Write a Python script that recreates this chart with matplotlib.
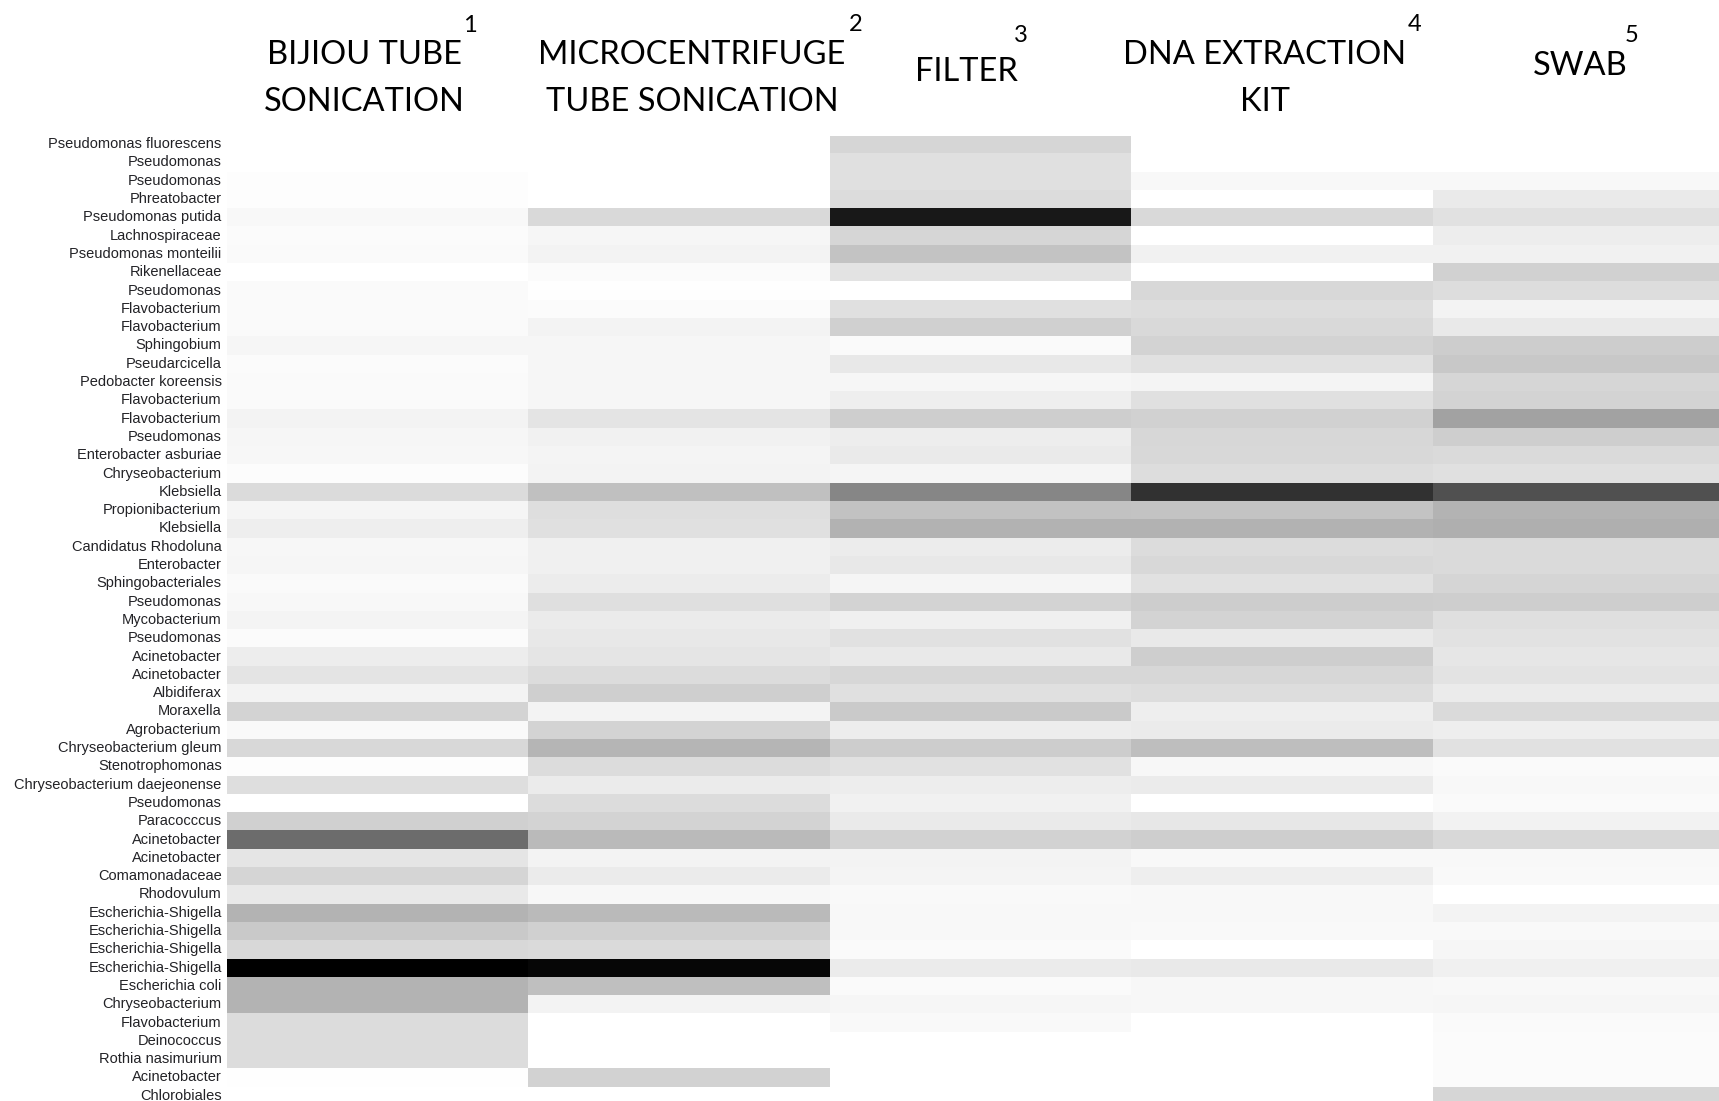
import numpy as np
import matplotlib
matplotlib.use('Agg')
import matplotlib.pyplot as plt
from matplotlib.transforms import ScaledTranslation

W, H = 1719, 1101  # размер картинки в пикселях

taxa = [
    'Pseudomonas fluorescens', 'Pseudomonas', 'Pseudomonas', 'Phreatobacter',
    'Pseudomonas putida', 'Lachnospiraceae', 'Pseudomonas monteilii', 'Rikenellaceae',
    'Pseudomonas', 'Flavobacterium', 'Flavobacterium', 'Sphingobium',
    'Pseudarcicella', 'Pedobacter koreensis', 'Flavobacterium', 'Flavobacterium',
    'Pseudomonas', 'Enterobacter asburiae', 'Chryseobacterium', 'Klebsiella',
    'Propionibacterium', 'Klebsiella', 'Candidatus Rhodoluna', 'Enterobacter',
    'Sphingobacteriales', 'Pseudomonas', 'Mycobacterium', 'Pseudomonas',
    'Acinetobacter', 'Acinetobacter', 'Albidiferax', 'Moraxella',
    'Agrobacterium', 'Chryseobacterium gleum', 'Stenotrophomonas', 'Chryseobacterium daejeonense',
    'Pseudomonas', 'Paracocccus', 'Acinetobacter', 'Acinetobacter',
    'Comamonadaceae', 'Rhodovulum', 'Escherichia-Shigella', 'Escherichia-Shigella',
    'Escherichia-Shigella', 'Escherichia-Shigella', 'Escherichia coli', 'Chryseobacterium',
    'Flavobacterium', 'Deinococcus', 'Rothia nasimurium', 'Acinetobacter',
    'Chlorobiales',
]

# интенсивность (0 - белый, 255 - чёрный) для каждого метода
bijou = [0, 0, 2, 2, 7, 4, 5, 0, 5, 5, 5, 9, 4, 5, 5, 12, 9, 8, 3, 36,
         10, 17, 8, 9, 5, 7, 11, 4, 18, 27, 12, 43, 6, 39, 2, 33, 0, 47, 147, 26,
         42, 22, 76, 54, 39, 255, 76, 76, 35, 35, 35, 1, 0]
microcentrifuge = [0, 0, 0, 0, 38, 9, 12, 4, 1, 4, 12, 9, 9, 9, 9, 27, 14, 11, 12, 63,
                   33, 31, 15, 15, 19, 32, 20, 23, 26, 35, 48, 12, 43, 74, 35, 20, 35, 44, 69, 12,
                   20, 8, 69, 47, 37, 249, 64, 12, 0, 0, 0, 45, 0]
filter_ = [41, 31, 31, 35, 231, 41, 59, 28, 0, 31, 47, 5, 23, 9, 17, 49, 18, 21, 10, 121,
           61, 77, 19, 23, 10, 43, 15, 30, 22, 40, 31, 53, 18, 50, 30, 18, 14, 21, 45, 12,
           11, 6, 7, 7, 5, 20, 5, 9, 6, 0, 0, 0, 0]
dna_kit = [0, 0, 7, 0, 38, 0, 14, 0, 39, 34, 38, 44, 30, 11, 31, 46, 40, 39, 34, 205,
           59, 77, 35, 39, 30, 50, 44, 22, 49, 40, 34, 17, 20, 65, 8, 20, 0, 24, 49, 7,
           17, 7, 7, 6, 0, 22, 8, 8, 0, 0, 0, 0, 0]
swab = [0, 0, 7, 21, 30, 18, 14, 46, 34, 12, 22, 50, 55, 41, 44, 93, 49, 37, 31, 175,
        75, 80, 37, 37, 42, 49, 32, 29, 25, 28, 20, 37, 17, 30, 5, 7, 5, 13, 39, 7,
        6, 0, 12, 6, 9, 15, 7, 9, 5, 4, 4, 4, 41]

methods = [('BIJIOU TUBE', 'SONICATION'), ('MICROCENTRIFUGE', 'TUBE SONICATION'),
           ('FILTER',), ('DNA EXTRACTION', 'KIT'), ('SWAB',)]

data = np.column_stack([bijou, microcentrifuge, filter_, dna_kit, swab])

fig = plt.figure(figsize=(W / 100, H / 100), dpi=100)

# теплокарта: x 226.5..1734, y 135.5..1105.4 (низ и правый край обрезаны, как в оригинале)
left, top, right, bottom = 226.5, 135.5, 1734.0, 1105.4
ax = fig.add_axes([left / W, (H - bottom) / H, (right - left) / W, (bottom - top) / H])
ax.imshow(data, cmap='gray_r', vmin=0, vmax=255, aspect='auto', interpolation='nearest')
ax.set_xticks([])
ax.set_yticks(range(len(taxa)))
ax.set_yticklabels(taxa, fontsize=10.5, family=['Liberation Sans', 'DejaVu Sans'], color='#222226')
ax.tick_params(axis='y', length=0, pad=3.5)
shift = ScaledTranslation(0, 2 / 100, fig.dpi_scale_trans)  # подписи чуть выше центра строки
for lbl in ax.get_yticklabels():
    lbl.set_transform(lbl.get_transform() + shift)
for s in ax.spines.values():
    s.set_visible(False)

# заголовки колонок (координаты в пикселях, базовая линия)
title_font = dict(family=['Lato', 'DejaVu Sans'], color='black')
title_pos = [(364, [64, 111]), (692, [64, 111]), (966, [81]), (1265, [64, 111]), (1580, [75])]
for lines, (cx, ys) in zip(methods, title_pos):
    for line, y in zip(lines, ys):
        fig.text(cx / W, 1 - y / H, line, ha='center', va='baseline', fontsize=23.5, **title_font)

# номера колонок
numbers = ['1', '2', '3', '4', '5']
num_pos = [(470, 32), (856, 31), (1021, 42), (1415, 31), (1632, 42)]
for n, (x, y) in zip(numbers, num_pos):
    fig.text(x / W, 1 - y / H, n, ha='center', va='baseline', fontsize=17, **title_font)

fig.savefig('out.png', dpi=100)
